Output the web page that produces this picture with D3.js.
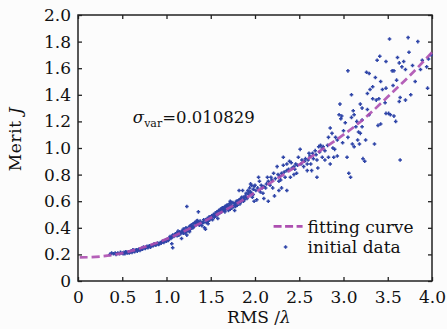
<!DOCTYPE html>
<html>
<head>
<meta charset="utf-8">
<script src="https://cdn.jsdelivr.net/npm/d3@7"></script>
<style>
  body { margin: 0; background: #fcfcfc; }
  svg { display: block; }
  text { font-family: "DejaVu Serif", "Liberation Serif", serif; fill: #111; }
</style>
</head>
<body>
<svg id="chart" width="447" height="329"></svg>
<script>
// tick labels
const xTicks = [0, 0.5, 1.0, 1.5, 2.0, 2.5, 3.0, 3.5, 4.0];
const yTicks = [0, 0.2, 0.4, 0.6, 0.8, 1.0, 1.2, 1.4, 1.6, 1.8, 2.0];

// fitting curve
const curveX = [0.02, 0.25, 0.5, 0.75, 1.0, 1.25, 1.5, 1.75, 2.0, 2.25, 2.5, 2.75, 3.0, 3.25, 3.5, 3.75, 4.0];
const curveY = [0.177, 0.184, 0.21, 0.255, 0.315, 0.39, 0.475, 0.565, 0.665, 0.77, 0.875, 0.985, 1.10, 1.23, 1.385, 1.545, 1.72];

// initial data, RMS < 1.5
const dataLow = [
  [0.36,0.20],[0.38,0.21],[0.40,0.205],[0.42,0.21],[0.43,0.20],[0.45,0.21],[0.47,0.205],[0.48,0.215],
  [0.50,0.21],[0.51,0.205],[0.52,0.215],[0.53,0.205],[0.54,0.22],[0.55,0.215],[0.56,0.21],[0.57,0.22],
  [0.58,0.21],[0.59,0.22],[0.60,0.225],[0.61,0.215],[0.62,0.235],[0.63,0.23],[0.64,0.22],[0.65,0.23],
  [0.66,0.235],[0.67,0.225],[0.68,0.235],[0.69,0.24],[0.70,0.23],[0.71,0.24],[0.72,0.245],[0.73,0.24],
  [0.74,0.255],[0.75,0.25],[0.76,0.245],[0.77,0.255],[0.78,0.26],[0.79,0.25],[0.80,0.26],[0.81,0.265],
  [0.82,0.255],[0.83,0.265],[0.84,0.27],[0.85,0.265],[0.86,0.28],[0.87,0.275],[0.88,0.27],[0.89,0.28],
  [0.90,0.285],[0.91,0.275],[0.92,0.28],[0.93,0.29],[0.94,0.285],[0.95,0.295],[0.96,0.30],[0.97,0.29],
  [0.98,0.30],[0.99,0.31],[1.00,0.30],[1.01,0.315],[1.02,0.305],[1.03,0.32],[1.04,0.335],[1.05,0.32],
  [1.06,0.33],[1.07,0.345],[1.06,0.28],[1.07,0.25],[1.08,0.335],[1.09,0.34],[1.10,0.355],[1.11,0.35],
  [1.12,0.36],[1.12,0.34],[1.13,0.375],[1.14,0.345],[1.15,0.37],[1.16,0.355],[1.17,0.365],[1.17,0.32],
  [1.18,0.38],[1.19,0.36],[1.19,0.39],[1.20,0.385],[1.21,0.37],[1.21,0.36],[1.22,0.40],[1.23,0.375],
  [1.23,0.56],[1.23,0.345],[1.24,0.395],[1.25,0.38],[1.26,0.41],[1.26,0.37],[1.27,0.39],[1.27,0.415],
  [1.28,0.42],[1.29,0.40],[1.30,0.43],[1.30,0.40],[1.31,0.41],[1.32,0.44],[1.33,0.42],[1.33,0.44],
  [1.34,0.45],[1.35,0.43],[1.35,0.455],[1.36,0.52],[1.36,0.44],[1.37,0.42],[1.38,0.45],[1.38,0.43],
  [1.39,0.43],[1.40,0.415],[1.41,0.44],[1.42,0.46],[1.42,0.44],[1.43,0.40],[1.44,0.39],[1.44,0.46],
  [1.45,0.44],[1.46,0.47],[1.47,0.45],[1.47,0.43],[1.48,0.48],[1.49,0.46],[1.49,0.48]
];

// initial data, 1.5 <= RMS < 2.8
const dataMid = [
  [1.50,0.47],[1.51,0.49],[1.52,0.46],[1.52,0.48],[1.53,0.50],[1.54,0.48],[1.55,0.51],[1.55,0.49],
  [1.56,0.49],[1.57,0.52],[1.57,0.50],[1.58,0.50],[1.58,0.47],[1.59,0.53],[1.60,0.51],[1.60,0.53],
  [1.61,0.54],[1.62,0.52],[1.62,0.54],[1.63,0.55],[1.64,0.53],[1.64,0.55],[1.65,0.545],[1.66,0.56],
  [1.66,0.52],[1.67,0.54],[1.67,0.56],[1.68,0.57],[1.69,0.55],[1.69,0.57],[1.70,0.56],[1.70,0.53],
  [1.71,0.58],[1.71,0.55],[1.72,0.54],[1.72,0.60],[1.73,0.57],[1.73,0.59],[1.74,0.55],[1.75,0.59],
  [1.75,0.56],[1.76,0.56],[1.77,0.53],[1.77,0.58],[1.78,0.58],[1.78,0.56],[1.79,0.60],[1.80,0.57],
  [1.80,0.60],[1.81,0.59],[1.82,0.61],[1.82,0.68],[1.83,0.58],[1.83,0.61],[1.84,0.62],[1.85,0.60],
  [1.85,0.63],[1.86,0.68],[1.87,0.63],[1.87,0.60],[1.88,0.61],[1.89,0.64],[1.90,0.66],[1.90,0.63],
  [1.91,0.62],[1.92,0.68],[1.93,0.65],[1.93,0.67],[1.94,0.70],[1.95,0.67],[1.95,0.73],[1.96,0.72],
  [1.96,0.66],[1.97,0.63],[1.98,0.69],[1.98,0.65],[1.99,0.71],[1.99,0.60],[2.00,0.72],[2.01,0.68],
  [2.02,0.61],[2.03,0.70],[2.04,0.78],[2.05,0.75],[2.06,0.67],[2.07,0.72],[2.08,0.70],[2.09,0.66],
  [2.10,0.62],[2.10,0.71],[2.12,0.70],[2.13,0.73],[2.14,0.78],[2.15,0.60],[2.15,0.75],[2.17,0.72],
  [2.18,0.78],[2.19,0.76],[2.20,0.70],[2.21,0.81],[2.22,0.64],[2.23,0.77],[2.25,0.86],[2.26,0.80],
  [2.27,0.75],[2.27,0.68],[2.28,0.79],[2.29,0.76],[2.30,0.70],[2.30,0.81],[2.32,0.87],[2.32,0.93],
  [2.33,0.82],[2.34,0.78],[2.36,0.68],[2.36,0.83],[2.36,0.88],[2.38,0.84],[2.39,0.90],[2.40,0.78],
  [2.41,0.89],[2.42,0.85],[2.44,0.86],[2.44,0.80],[2.45,0.84],[2.46,0.88],[2.47,0.81],[2.48,0.87],
  [2.49,0.93],[2.51,0.99],[2.52,0.88],[2.53,0.91],[2.55,0.86],[2.56,0.90],[2.57,0.92],[2.59,0.88],
  [2.59,0.83],[2.60,0.91],[2.61,0.96],[2.62,0.94],[2.63,0.88],[2.64,0.83],[2.65,0.96],[2.66,0.92],
  [2.68,0.98],[2.69,0.95],[2.70,0.91],[2.70,0.78],[2.71,0.85],[2.72,1.01],[2.73,0.97],[2.74,1.02],
  [2.76,0.93],[2.76,1.00],[2.77,1.01],[2.79,0.91],[2.79,0.98]
];

// initial data, RMS >= 2.8
const dataHigh = [
  [2.82,1.02],[2.83,1.08],[2.83,0.93],[2.85,1.15],[2.85,0.88],[2.87,1.11],[2.88,1.00],[2.89,0.93],
  [2.90,0.99],[2.91,1.08],[2.93,1.06],[2.93,0.94],[2.95,1.25],[2.96,1.33],[2.97,1.22],[2.98,1.24],
  [2.99,1.04],[3.00,1.13],[3.02,1.19],[3.04,0.93],[3.05,1.58],[3.05,1.08],[3.06,0.81],[3.08,0.78],
  [3.09,1.40],[3.09,1.23],[3.10,1.03],[3.11,1.28],[3.12,1.25],[3.12,1.01],[3.14,1.16],[3.15,1.20],
  [3.16,1.06],[3.17,1.12],[3.18,1.03],[3.19,1.33],[3.19,1.11],[3.21,1.30],[3.21,1.21],[3.21,1.16],
  [3.22,0.92],[3.24,0.90],[3.25,1.06],[3.26,1.57],[3.27,1.41],[3.27,1.29],[3.29,1.56],[3.29,1.25],
  [3.30,1.44],[3.33,1.37],[3.33,1.46],[3.35,1.03],[3.36,1.53],[3.37,1.36],[3.38,1.66],[3.39,1.17],
  [3.40,1.37],[3.41,1.69],[3.42,1.50],[3.42,1.18],[3.44,1.44],[3.47,1.34],[3.48,1.65],[3.48,1.26],
  [3.48,1.45],[3.51,1.26],[3.52,1.82],[3.53,1.25],[3.55,1.58],[3.56,1.47],[3.57,1.58],[3.57,1.24],
  [3.59,1.20],[3.60,1.51],[3.61,1.68],[3.63,1.64],[3.63,1.35],[3.64,1.38],[3.64,0.91],[3.66,1.61],
  [3.68,1.65],[3.70,1.59],[3.70,1.36],[3.73,1.83],[3.74,1.72],[3.76,1.40],[3.78,1.62],[3.81,1.50],
  [3.84,1.80],[3.87,1.59],[3.89,1.66],[3.94,1.61],[3.95,1.45],[3.96,1.67],[3.99,1.70]
];

const margin = {top: 15, right: 15, bottom: 48, left: 78};
const width = 447 - margin.left - margin.right;
const height = 329 - margin.top - margin.bottom;

const svg = d3.select('#chart');
const g = svg.append('g').attr('transform', `translate(${margin.left},${margin.top})`);

const x = d3.scaleLinear().domain([0, 4]).range([0, width]);
const y = d3.scaleLinear().domain([0, 2]).range([height, 0]);

const fmt = d => d === 0 ? '0' : d3.format('.1f')(d);

// axes with ticks pointing inward, on all four sides
g.append('g')
  .attr('transform', `translate(0,${height})`)
  .call(d3.axisBottom(x).tickValues(xTicks).tickSizeInner(-4).tickSizeOuter(0).tickPadding(10).tickFormat(fmt))
  .call(a => a.selectAll('text').attr('font-size', 17));

g.append('g')
  .call(d3.axisLeft(y).tickValues(yTicks).tickSizeInner(-4).tickSizeOuter(0).tickPadding(7).tickFormat(fmt))
  .call(a => a.selectAll('text').attr('font-size', 17));

g.append('g')
  .call(d3.axisTop(x).tickValues(xTicks).tickSizeInner(-4).tickSizeOuter(0).tickFormat(''));

g.append('g')
  .attr('transform', `translate(${width},0)`)
  .call(d3.axisRight(y).tickValues(yTicks).tickSizeInner(-4).tickSizeOuter(0).tickFormat(''));

g.selectAll('.domain').remove();
g.selectAll('.tick line').attr('stroke', '#222').attr('stroke-width', 1.3);
g.selectAll('.tick text').attr('fill', '#111').attr('font-family', '"DejaVu Serif", serif');

g.append('rect')
  .attr('width', width)
  .attr('height', height)
  .attr('fill', 'none')
  .attr('stroke', '#222')
  .attr('stroke-width', 1.5);

// scatter points
const allData = dataLow.concat(dataMid, dataHigh);
g.selectAll('.pt')
  .data(allData)
  .enter()
  .append('path')
  .attr('class', 'pt')
  .attr('transform', d => `translate(${x(d[0])},${y(d[1])})`)
  .attr('d', 'M-1.8,0H1.8M0,-1.8V1.8')
  .attr('stroke', '#2f45a8')
  .attr('stroke-width', 1.5)
;

// fitting curve
const line = d3.line()
  .x(d => x(d[0]))
  .y(d => y(d[1]))
  .curve(d3.curveNatural);

g.append('path')
  .datum(curveX.map((v, i) => [v, curveY[i]]))
  .attr('d', line)
  .attr('fill', 'none')
  .attr('stroke', '#ad4fb0')
  .attr('stroke-width', 2.7)
  .attr('stroke-dasharray', '8,4')
  .attr('opacity', 0.9)
;

// annotation
const ann = g.append('text')
  .attr('x', x(0.62))
  .attr('y', y(1.185))
  .attr('font-size', 16.5);
ann.append('tspan').attr('font-style', 'italic').text('σ');
ann.append('tspan').attr('font-size', 11).attr('dy', 4).text('var');
ann.append('tspan').attr('dy', -4).text('=0.010829');

// legend
const lg = g.append('g').attr('transform', `translate(${x(2.21)},${y(0.41)})`);
lg.append('line')
  .attr('x1', 0).attr('x2', 29)
  .attr('stroke', '#ad4fb0')
  .attr('stroke-width', 2.7)
  .attr('stroke-dasharray', '8,3.5');
lg.append('text').attr('x', 34).attr('y', 6.5).attr('font-size', 17).text('fitting curve');
lg.append('path')
  .attr('transform', 'translate(12,20.5)')
  .attr('d', 'M-1.8,0H1.8M0,-1.8V1.8')
  .attr('stroke', '#2f45a8')
  .attr('stroke-width', 1.5);
lg.append('text').attr('x', 34).attr('y', 27).attr('font-size', 17).text('initial data');

// axis titles
const xt = svg.append('text')
  .attr('x', margin.left + width / 2 + 4)
  .attr('y', 323)
  .attr('text-anchor', 'middle')
  .attr('font-size', 17);
xt.append('tspan').text('RMS /');
xt.append('tspan').attr('font-style', 'italic').text('λ');

const yt = svg.append('text')
  .attr('transform', `translate(21,${margin.top + 124}) rotate(-90)`)
  .attr('text-anchor', 'middle')
  .attr('font-size', 17)
  .attr('letter-spacing', 0.6);
yt.append('tspan').text('Merit ');
yt.append('tspan').attr('font-style', 'italic').text('J');
</script>
</body>
</html>
